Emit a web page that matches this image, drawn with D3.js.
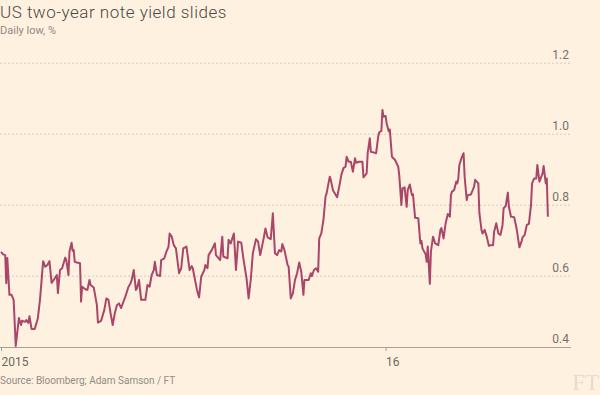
<!DOCTYPE html>
<html><head><meta charset="utf-8">
<script src="https://cdn.jsdelivr.net/npm/d3@7"></script>
<style>
html,body{margin:0;padding:0;background:#fff1e0;}
svg{display:block;font-family:"Roboto","Liberation Sans",sans-serif;}
</style></head>
<body>
<svg id="chart" width="600" height="395"></svg>
<script>
const title = "US two-year note yield slides";
const subtitle = "Daily low, %";
const source = "Source: Bloomberg; Adam Samson / FT";
const yTicks = [0.4, 0.6, 0.8, 1.0, 1.2];
const xTickDates = ["2015-01-01", "2016-01-01"];
const xTickLabels = ["2015", "16"];
const dates = ["2015-01-01","2015-01-03","2015-01-05","2015-01-06","2015-01-07","2015-01-09","2015-01-11","2015-01-13","2015-01-15","2015-01-16","2015-01-18","2015-01-20","2015-01-21","2015-01-24","2015-01-25","2015-01-27","2015-01-28","2015-01-30","2015-02-02","2015-02-04","2015-02-05","2015-02-07","2015-02-10","2015-02-12","2015-02-14","2015-02-16","2015-02-18","2015-02-20","2015-02-23","2015-02-24","2015-02-26","2015-02-28","2015-03-03","2015-03-04","2015-03-06","2015-03-07","2015-03-09","2015-03-10","2015-03-11","2015-03-12","2015-03-14","2015-03-17","2015-03-18","2015-03-19","2015-03-22","2015-03-24","2015-03-26","2015-03-27","2015-03-30","2015-04-02","2015-04-03","2015-04-06","2015-04-09","2015-04-11","2015-04-13","2015-04-15","2015-04-17","2015-04-19","2015-04-21","2015-04-23","2015-04-25","2015-04-29","2015-05-02","2015-05-04","2015-05-05","2015-05-07","2015-05-09","2015-05-10","2015-05-12","2015-05-14","2015-05-18","2015-05-20","2015-05-22","2015-05-24","2015-05-26","2015-05-27","2015-05-29","2015-06-01","2015-06-02","2015-06-05","2015-06-07","2015-06-09","2015-06-10","2015-06-12","2015-06-14","2015-06-16","2015-06-19","2015-06-21","2015-06-23","2015-06-26","2015-06-29","2015-07-01","2015-07-02","2015-07-06","2015-07-08","2015-07-10","2015-07-13","2015-07-14","2015-07-16","2015-07-17","2015-07-20","2015-07-23","2015-07-24","2015-07-28","2015-07-30","2015-07-31","2015-08-04","2015-08-05","2015-08-07","2015-08-10","2015-08-12","2015-08-14","2015-08-17","2015-08-19","2015-08-22","2015-08-24","2015-08-26","2015-08-28","2015-08-31","2015-09-02","2015-09-04","2015-09-07","2015-09-09","2015-09-11","2015-09-14","2015-09-16","2015-09-18","2015-09-20","2015-09-22","2015-09-24","2015-09-25","2015-09-27","2015-09-30","2015-10-01","2015-10-03","2015-10-05","2015-10-07","2015-10-09","2015-10-11","2015-10-13","2015-10-15","2015-10-16","2015-10-20","2015-10-22","2015-10-23","2015-10-25","2015-10-27","2015-10-29","2015-10-30","2015-11-01","2015-11-03","2015-11-05","2015-11-06","2015-11-09","2015-11-10","2015-11-12","2015-11-16","2015-11-18","2015-11-20","2015-11-22","2015-11-24","2015-11-25","2015-11-27","2015-11-29","2015-12-01","2015-12-03","2015-12-04","2015-12-07","2015-12-10","2015-12-11","2015-12-14","2015-12-15","2015-12-17","2015-12-18","2015-12-22","2015-12-23","2015-12-25","2015-12-26","2015-12-28","2015-12-29","2015-12-30","2016-01-01","2016-01-02","2016-01-04","2016-01-05","2016-01-07","2016-01-10","2016-01-13","2016-01-14","2016-01-16","2016-01-17","2016-01-19","2016-01-21","2016-01-22","2016-01-24","2016-01-26","2016-01-27","2016-01-29","2016-02-01","2016-02-03","2016-02-04","2016-02-05","2016-02-08","2016-02-09","2016-02-10","2016-02-12","2016-02-13","2016-02-15","2016-02-17","2016-02-20","2016-02-22","2016-02-23","2016-02-25","2016-02-27","2016-02-29","2016-03-02","2016-03-03","2016-03-04","2016-03-06","2016-03-08","2016-03-09","2016-03-10","2016-03-11","2016-03-13","2016-03-15","2016-03-16","2016-03-18","2016-03-19","2016-03-22","2016-03-25","2016-03-26","2016-03-29","2016-03-30","2016-04-01","2016-04-02","2016-04-04","2016-04-06","2016-04-08","2016-04-10","2016-04-12","2016-04-13","2016-04-15","2016-04-17","2016-04-19","2016-04-21","2016-04-22","2016-04-24","2016-04-26","2016-04-27","2016-04-29","2016-05-02","2016-05-04","2016-05-05","2016-05-07","2016-05-09","2016-05-10","2016-05-12","2016-05-14","2016-05-16","2016-05-18","2016-05-19","2016-05-21","2016-05-23","2016-05-24","2016-05-26","2016-05-29","2016-05-30","2016-06-01","2016-06-02","2016-06-03"];
const values = [0.667,0.660,0.658,0.579,0.650,0.546,0.546,0.532,0.402,0.428,0.481,0.461,0.473,0.470,0.475,0.467,0.486,0.450,0.450,0.470,0.481,0.532,0.641,0.625,0.630,0.641,0.580,0.588,0.602,0.551,0.616,0.621,0.651,0.644,0.602,0.668,0.693,0.670,0.672,0.639,0.637,0.635,0.527,0.569,0.562,0.560,0.588,0.574,0.567,0.517,0.468,0.473,0.503,0.536,0.532,0.494,0.461,0.494,0.517,0.522,0.509,0.541,0.569,0.579,0.588,0.616,0.560,0.564,0.588,0.532,0.532,0.574,0.569,0.602,0.616,0.639,0.602,0.599,0.644,0.649,0.668,0.682,0.719,0.710,0.686,0.677,0.607,0.621,0.677,0.682,0.616,0.627,0.621,0.560,0.539,0.597,0.616,0.630,0.621,0.658,0.672,0.691,0.658,0.644,0.710,0.654,0.649,0.701,0.691,0.719,0.616,0.696,0.693,0.649,0.593,0.536,0.588,0.663,0.703,0.696,0.658,0.701,0.733,0.708,0.703,0.776,0.663,0.658,0.672,0.668,0.689,0.672,0.630,0.625,0.536,0.550,0.588,0.607,0.637,0.611,0.546,0.588,0.588,0.607,0.599,0.616,0.621,0.611,0.705,0.719,0.757,0.823,0.832,0.879,0.870,0.841,0.821,0.851,0.884,0.903,0.907,0.935,0.921,0.921,0.893,0.931,0.918,0.921,0.921,0.877,0.888,0.945,0.987,0.949,0.946,0.945,0.992,1.004,1.008,1.067,1.048,1.050,1.029,1.006,1.012,0.935,0.926,0.907,0.881,0.799,0.846,0.849,0.794,0.841,0.857,0.827,0.829,0.763,0.762,0.691,0.698,0.677,0.660,0.639,0.682,0.577,0.668,0.710,0.691,0.686,0.729,0.734,0.705,0.748,0.774,0.766,0.827,0.837,0.841,0.865,0.860,0.874,0.912,0.931,0.945,0.879,0.813,0.827,0.829,0.851,0.870,0.860,0.776,0.729,0.719,0.729,0.710,0.684,0.686,0.686,0.724,0.748,0.719,0.715,0.743,0.790,0.796,0.834,0.794,0.766,0.765,0.738,0.719,0.680,0.696,0.708,0.715,0.743,0.746,0.799,0.860,0.874,0.874,0.912,0.865,0.888,0.909,0.860,0.874,0.766];

const parse = d3.timeParse("%Y-%m-%d");
const data = dates.map((d, i) => ({date: parse(d), value: values[i]}));

const svg = d3.select("#chart");
const x = d3.scaleTime().domain([parse("2015-01-01"), parse("2016-06-24")]).range([1, 570]);
const y = d3.scaleLinear().domain([0.4, 1.2]).range([346.7, 62.7]);

// title
svg.append("text").attr("x", 0).attr("y", 18).attr("fill", "#4e4845")
  .style("font-size", "17px").style("font-weight", "300").style("letter-spacing", "0.5px").text(title);
svg.append("text").attr("x", 0).attr("y", 34).attr("fill", "#8f8984")
  .style("font-size", "11px").text(subtitle);

// y grid
const yAxis = d3.axisRight(y).tickValues(yTicks).tickSize(571).tickFormat(d3.format(".1f"));
const gy = svg.append("g").call(yAxis);
gy.select(".domain").remove();
gy.selectAll(".tick line").attr("stroke", "#d6cbbd").attr("stroke-dasharray", "2,2")
  .filter(d => d === 0.4).remove();
gy.selectAll(".tick text").attr("x", 569).attr("dy", null).attr("y", -4).attr("text-anchor", "end")
  .attr("fill", "#75706b").style("font-size", "12px").style("font-family", "Roboto, sans-serif");

// x axis
const xAxis = d3.axisBottom(x).tickValues(xTickDates.map(parse)).tickSize(4)
  .tickFormat((d, i) => xTickLabels[i]);
const gx = svg.append("g").attr("transform", "translate(0,347)").call(xAxis);
gx.select(".domain").attr("stroke", "#a89f97").attr("d", "M0,0.5H571");
gx.selectAll(".tick line").attr("stroke", "#a89f97");
gx.selectAll(".tick text").attr("text-anchor", "start").attr("x", 0).attr("y", 19)
  .attr("dy", null).attr("fill", "#6d6863").style("font-size", "12px").style("font-family", "Roboto, sans-serif");

// line
const line = d3.line().x(d => x(d.date)).y(d => y(d.value));
svg.append("path").datum(data).attr("d", line).attr("fill", "none")
  .attr("stroke", "#a9466a").attr("stroke-width", 2).attr("stroke-linejoin", "round");

// source
svg.append("text").attr("x", 0).attr("y", 384).attr("fill", "#918b86")
  .style("font-size", "10px").text(source);
svg.append("text").attr("x", 599).attr("y", 390).attr("text-anchor", "end")
  .attr("fill", "#e7dccd").style("font-family", "'Liberation Serif', serif")
  .style("font-size", "23px").text("FT");
</script>
</body></html>
